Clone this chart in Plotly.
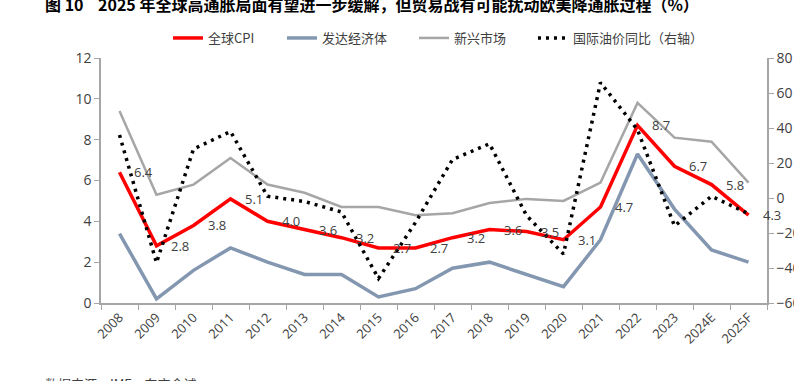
import plotly.graph_objects as go

years = ["2008", "2009", "2010", "2011", "2012", "2013", "2014", "2015", "2016",
         "2017", "2018", "2019", "2020", "2021", "2022", "2023", "2024E", "2025F"]
global_cpi = [6.4, 2.8, 3.8, 5.1, 4.0, 3.6, 3.2, 2.7, 2.7, 3.2, 3.6, 3.5, 3.1, 4.7, 8.7, 6.7, 5.8, 4.3]
developed = [3.4, 0.2, 1.6, 2.7, 2.0, 1.4, 1.4, 0.3, 0.7, 1.7, 2.0, 1.4, 0.8, 3.1, 7.3, 4.6, 2.6, 2.0]
emerging = [9.4, 5.3, 5.8, 7.1, 5.8, 5.4, 4.7, 4.7, 4.3, 4.4, 4.9, 5.1, 5.0, 5.9, 9.8, 8.1, 7.9, 5.9]
oil_yoy = [36, -37, 28, 38, 1, -2, -8, -46, -14, 22, 31, -10, -32, 66, 39, -16, 1, -9]

names = ["全球CPI", "发达经济体", "新兴市场", "国际油价同比（右轴）"]
title_text = "图 10    2025 年全球高通胀局面有望进一步缓解，但贸易战有可能扰动欧美降通胀过程（%）"
source_text = "数据来源：IMF，东方金诚"

FONT = "Open Sans, Noto Sans CJK SC, sans-serif"
CJK = "Noto Sans CJK SC, sans-serif"
TXT = "#404040"
AX = "#A6A6A6"

fig = go.Figure()
fig.add_trace(go.Scatter(x=years, y=global_cpi, name=names[0], mode="lines", legend="legend",
                         line=dict(color="#FF0000", width=3.5)))
fig.add_trace(go.Scatter(x=years, y=developed, name=names[1], mode="lines", legend="legend2",
                         line=dict(color="#8497B0", width=3.5)))
fig.add_trace(go.Scatter(x=years, y=emerging, name=names[2], mode="lines", legend="legend3",
                         line=dict(color="#A6A6A6", width=2.5)))
fig.add_trace(go.Scatter(x=years, y=oil_yoy, name=names[3], mode="lines", yaxis="y2",
                         legend="legend4",
                         line=dict(color="#000000", width=3.5, dash="3px,5px")))

for i, v in enumerate(global_cpi):
    fig.add_annotation(x=i, y=v, text=f"{v:.1f}", showarrow=False,
                       xanchor="left", yanchor="middle", xshift=12,
                       font=dict(family=FONT, size=13, color=TXT))

fig.add_annotation(xref="paper", yref="paper", x=-0.087, y=1.22, xanchor="left", yanchor="middle",
                   text="<b>" + title_text + "</b>", showarrow=False,
                   font=dict(family=CJK, size=16, color="#000000"))
fig.add_annotation(xref="paper", yref="paper", x=-0.087, y=-0.283, xanchor="left", yanchor="top",
                   text=source_text, showarrow=False,
                   font=dict(family=CJK, size=13, color=TXT))

leg_common = dict(orientation="h", y=1.0816, xanchor="left", yanchor="middle",
                  font=dict(family=CJK, size=13, color=TXT), bgcolor="rgba(0,0,0,0)",
                  itemwidth=30)

fig.update_layout(
    width=794, height=381,
    margin=dict(l=101, r=27, t=58, b=78),
    paper_bgcolor="white", plot_bgcolor="white",
    font=dict(family=FONT, size=13, color=TXT),
    showlegend=True,
    legend=dict(x=0.1006, **leg_common),
    legend2=dict(x=0.2718, **leg_common),
    legend3=dict(x=0.470, **leg_common),
    legend4=dict(x=0.6486, **leg_common),
    xaxis=dict(type="category", categoryorder="array", categoryarray=years,
               range=[-0.5, len(years) - 0.5], showgrid=False, showline=True,
               linecolor=AX, linewidth=1.5, automargin=False,
               ticks="outside", tickson="boundaries", ticklen=5, tickcolor=AX,
               tickangle=-45, tickfont=dict(size=13, color=TXT)),
    yaxis=dict(range=[0, 12], dtick=2, showgrid=False, showline=True, linecolor=AX,
               linewidth=1.5, ticks="outside", ticklen=5, tickcolor=AX, zeroline=False,
               automargin=False, tickfont=dict(size=14, color=TXT)),
    yaxis2=dict(range=[-60, 80], dtick=20, overlaying="y", side="right", showgrid=False,
                showline=True, linecolor=AX, linewidth=1.5, ticks="outside", ticklen=5,
                tickcolor=AX, zeroline=False, automargin=False,
                tickfont=dict(size=14, color=TXT)),
)

fig.write_html("out.html", config={"displayModeBar": False},
               post_script="document.body.style.margin='0';document.body.style.overflow='hidden';")
